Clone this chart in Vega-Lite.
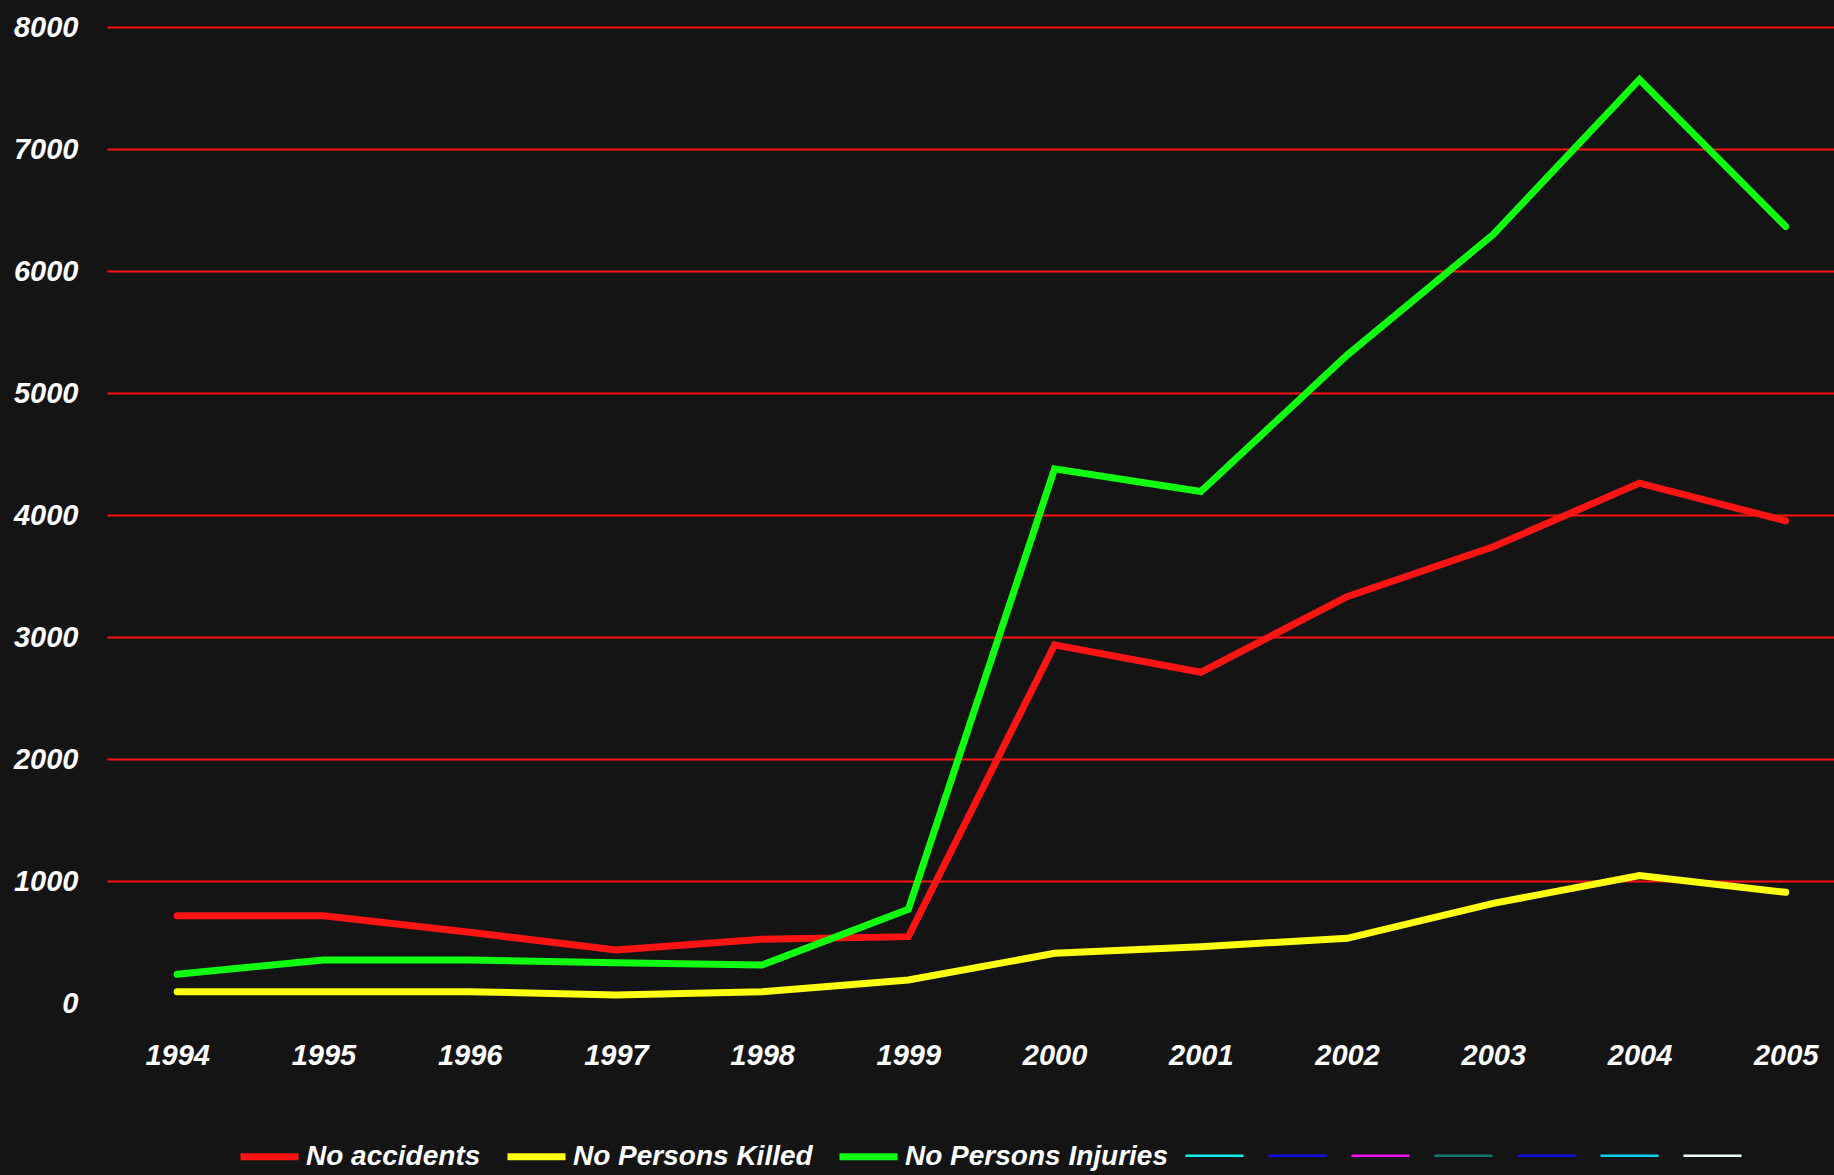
{
  "$schema": "https://vega.github.io/schema/vega-lite/v6.json",
  "autosize": {"type": "none"},
  "width": 1727,
  "height": 976,
  "padding": {"left": 107, "top": 27, "right": 0, "bottom": 172},
  "background": "#141414",
  "config": {
    "view": {"stroke": null},
    "axis": {
      "labelFont": "Liberation Sans, Arial, sans-serif",
      "labelFontStyle": "italic",
      "labelFontWeight": "bold",
      "labelColor": "#ffffff",
      "labelFontSize": 29,
      "ticks": false,
      "domain": false,
      "title": null
    },
    "legend": {
      "labelFont": "Liberation Sans, Arial, sans-serif",
      "labelFontStyle": "italic",
      "labelFontWeight": "bold",
      "labelColor": "#ffffff",
      "labelFontSize": 28,
      "labelLimit": 0
    }
  },
  "data": {
    "values": [
      {"year": 1994, "series": "No accidents", "value": 716},
      {"year": 1995, "series": "No accidents", "value": 716},
      {"year": 1996, "series": "No accidents", "value": 580},
      {"year": 1997, "series": "No accidents", "value": 435},
      {"year": 1998, "series": "No accidents", "value": 522},
      {"year": 1999, "series": "No accidents", "value": 544},
      {"year": 2000, "series": "No accidents", "value": 2935},
      {"year": 2001, "series": "No accidents", "value": 2711},
      {"year": 2002, "series": "No accidents", "value": 3330},
      {"year": 2003, "series": "No accidents", "value": 3740},
      {"year": 2004, "series": "No accidents", "value": 4261},
      {"year": 2005, "series": "No accidents", "value": 3952},
      {"year": 1994, "series": "No Persons Killed", "value": 93},
      {"year": 1995, "series": "No Persons Killed", "value": 93},
      {"year": 1996, "series": "No Persons Killed", "value": 93},
      {"year": 1997, "series": "No Persons Killed", "value": 66},
      {"year": 1998, "series": "No Persons Killed", "value": 93},
      {"year": 1999, "series": "No Persons Killed", "value": 189},
      {"year": 2000, "series": "No Persons Killed", "value": 407},
      {"year": 2001, "series": "No Persons Killed", "value": 462},
      {"year": 2002, "series": "No Persons Killed", "value": 530},
      {"year": 2003, "series": "No Persons Killed", "value": 817},
      {"year": 2004, "series": "No Persons Killed", "value": 1045},
      {"year": 2005, "series": "No Persons Killed", "value": 907},
      {"year": 1994, "series": "No Persons Injuries", "value": 235},
      {"year": 1995, "series": "No Persons Injuries", "value": 353},
      {"year": 1996, "series": "No Persons Injuries", "value": 353},
      {"year": 1997, "series": "No Persons Injuries", "value": 330},
      {"year": 1998, "series": "No Persons Injuries", "value": 312},
      {"year": 1999, "series": "No Persons Injuries", "value": 768},
      {"year": 2000, "series": "No Persons Injuries", "value": 4378},
      {"year": 2001, "series": "No Persons Injuries", "value": 4193},
      {"year": 2002, "series": "No Persons Injuries", "value": 5310},
      {"year": 2003, "series": "No Persons Injuries", "value": 6300},
      {"year": 2004, "series": "No Persons Injuries", "value": 7570},
      {"year": 2005, "series": "No Persons Injuries", "value": 6365}
    ]
  },
  "mark": {"type": "line", "strokeCap": "round", "strokeJoin": "miter"},
  "encoding": {
    "x": {
      "field": "year",
      "type": "quantitative",
      "scale": {"domain": [1993.52, 2005.33], "nice": false, "zero": false},
      "axis": {
        "values": [1994, 1995, 1996, 1997, 1998, 1999, 2000, 2001, 2002, 2003, 2004, 2005],
        "format": "d",
        "grid": false,
        "labelFlush": false,
        "labelOverlap": false,
        "labelPadding": 38
      }
    },
    "y": {
      "field": "value",
      "type": "quantitative",
      "scale": {"domain": [0, 8000], "nice": false},
      "axis": {
        "values": [0, 1000, 2000, 3000, 4000, 5000, 6000, 7000, 8000],
        "format": "d",
        "grid": true,
        "gridWidth": 2,
        "gridColor": {"condition": {"test": "datum.value === 0", "value": "transparent"}, "value": "#ff1010"},
        "gridOpacity": 1,
        "labelPadding": 29
      }
    },
    "color": {
      "field": "series",
      "type": "nominal",
      "scale": {
        "domain": ["No accidents", "No Persons Killed", "No Persons Injuries", "_1", "_2", "_3", "_4", "_5", "_6", "_7"],
        "range": ["#ff1414", "#ffff10", "#10ff10", "#10f0f0", "#1010e8", "#f010f0", "#107870", "#1010e8", "#10d0f0", "#f0fff8"]
      },
      "legend": {
        "title": null,
        "orient": "none",
        "legendX": 130,
        "legendY": 1097,
        "direction": "horizontal",
        "columns": 10,
        "symbolType": "stroke",
        "symbolSize": 3364,
        "labelOffset": 4,
        "columnPadding": 12,
        "labelExpr": "test(/^_/, datum.label) ? '' : datum.label"
      }
    },
    "strokeWidth": {
      "field": "series",
      "type": "nominal",
      "scale": {
        "type": "ordinal",
        "domain": ["No accidents", "No Persons Killed", "No Persons Injuries", "_1", "_2", "_3", "_4", "_5", "_6", "_7"],
        "range": [7, 7, 7, 2.5, 2.5, 2.5, 2.5, 2.5, 2.5, 2.5]
      }
    }
  }
}
